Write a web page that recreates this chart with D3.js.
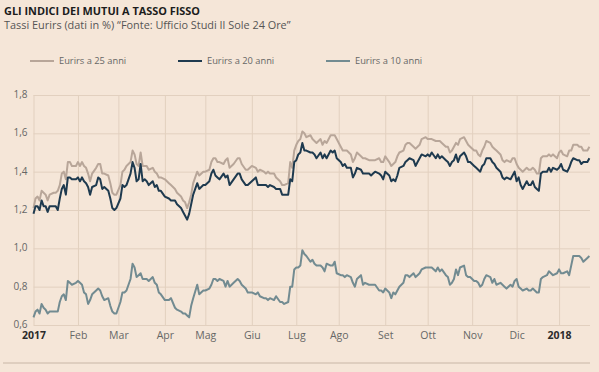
<!DOCTYPE html>
<html>
<head>
<meta charset="utf-8">
<script src="https://cdn.jsdelivr.net/npm/d3@7"></script>
<style>
  body { margin: 0; background: #f5e6d8; }
  svg { display: block; font-family: "Open Sans", sans-serif; }
</style>
</head>
<body>
<div id="chart"></div>
<script>
// business days (x axis skips weekends)
const dates = [
  "2017-01-02","2017-01-03","2017-01-04","2017-01-05","2017-01-06","2017-01-09","2017-01-10","2017-01-11","2017-01-12","2017-01-16",
  "2017-01-17","2017-01-18","2017-01-19","2017-01-20","2017-01-23","2017-01-24","2017-01-25","2017-01-26","2017-01-27","2017-01-31",
  "2017-02-01","2017-02-02","2017-02-03","2017-02-06","2017-02-07","2017-02-08","2017-02-09","2017-02-10","2017-02-14","2017-02-15",
  "2017-02-16","2017-02-17","2017-02-20","2017-02-22","2017-02-23","2017-02-24","2017-02-27","2017-02-28","2017-03-02",
  "2017-03-03","2017-03-06","2017-03-07","2017-03-09","2017-03-10","2017-03-13","2017-03-14","2017-03-15","2017-03-16","2017-03-17",
  "2017-03-20","2017-03-21","2017-03-22","2017-03-24","2017-03-27","2017-03-28","2017-03-29","2017-03-30","2017-04-03","2017-04-05",
  "2017-04-06","2017-04-10","2017-04-11","2017-04-13","2017-04-14","2017-04-17","2017-04-18","2017-04-19","2017-04-20","2017-04-21",
  "2017-04-25","2017-04-26","2017-04-28","2017-05-01","2017-05-03","2017-05-04",
  "2017-05-05","2017-05-08","2017-05-09","2017-05-10","2017-05-12","2017-05-15","2017-05-16","2017-05-17","2017-05-19","2017-05-23",
  "2017-05-24","2017-05-25","2017-05-29","2017-05-30","2017-06-01","2017-06-05","2017-06-06","2017-06-07","2017-06-09","2017-06-12",
  "2017-06-13","2017-06-14","2017-06-16","2017-06-19","2017-06-21","2017-06-22","2017-06-23","2017-06-27","2017-06-28","2017-06-29",
  "2017-06-30","2017-07-03","2017-07-04","2017-07-05","2017-07-06",
  "2017-07-07","2017-07-10","2017-07-12","2017-07-13","2017-07-14","2017-07-17","2017-07-19","2017-07-20","2017-07-21","2017-07-24",
  "2017-07-26","2017-07-27","2017-07-28","2017-07-31","2017-08-02","2017-08-03","2017-08-04","2017-08-07","2017-08-09","2017-08-10",
  "2017-08-11","2017-08-14","2017-08-16","2017-08-17","2017-08-18","2017-08-22","2017-08-23","2017-08-24","2017-08-25","2017-08-29",
  "2017-08-30","2017-08-31","2017-09-01","2017-09-05","2017-09-06","2017-09-07",
  "2017-09-08","2017-09-11","2017-09-12","2017-09-14","2017-09-15","2017-09-18","2017-09-19","2017-09-21","2017-09-22","2017-09-25",
  "2017-09-26","2017-09-27","2017-09-29","2017-10-02","2017-10-03","2017-10-04","2017-10-06","2017-10-09","2017-10-10","2017-10-11",
  "2017-10-13","2017-10-16","2017-10-17","2017-10-18","2017-10-19","2017-10-20","2017-10-23","2017-10-24","2017-10-26","2017-10-27",
  "2017-10-30","2017-10-31","2017-11-02","2017-11-03","2017-11-06","2017-11-07",
  "2017-11-08","2017-11-09","2017-11-10","2017-11-14","2017-11-15","2017-11-16","2017-11-17","2017-11-21","2017-11-22","2017-11-23",
  "2017-11-24","2017-11-28","2017-11-29","2017-11-30","2017-12-01","2017-12-04","2017-12-05","2017-12-06","2017-12-08","2017-12-11",
  "2017-12-12","2017-12-13","2017-12-14","2017-12-15","2017-12-18","2017-12-19","2017-12-20","2017-12-22","2017-12-25","2017-12-26",
  "2017-12-27","2017-12-29","2018-01-01","2018-01-02","2018-01-03","2018-01-05","2018-01-08","2018-01-09","2018-01-10","2018-01-12",
  "2018-01-15","2018-01-16","2018-01-17","2018-01-19","2018-01-22"
];

const eurirs25 = [
  1.21,1.26,1.27,1.25,1.30,1.29,1.28,1.25,1.28,1.29,1.29,1.30,1.33,1.39,1.40,1.36,1.45,1.45,1.43,1.43,
  1.45,1.43,1.45,1.43,1.42,1.39,1.35,1.39,1.42,1.44,1.44,1.39,1.39,1.38,1.34,1.29,1.28,1.28,1.33,
  1.40,1.41,1.43,1.45,1.51,1.49,1.44,1.43,1.50,1.43,1.43,1.43,1.41,1.42,1.40,1.39,1.37,1.37,1.36,1.34,
  1.33,1.31,1.29,1.27,1.25,1.24,1.21,1.24,1.28,1.34,1.40,1.38,1.40,1.40,1.41,1.45,
  1.47,1.47,1.45,1.45,1.44,1.46,1.47,1.42,1.44,1.47,1.47,1.44,1.41,1.41,1.43,1.42,1.40,1.41,1.40,1.39,
  1.40,1.39,1.39,1.37,1.35,1.33,1.33,1.34,1.45,1.42,1.51,1.54,1.56,1.57,1.61,
  1.60,1.58,1.59,1.57,1.56,1.55,1.57,1.54,1.56,1.55,1.59,1.59,1.59,1.57,1.53,1.51,1.51,1.51,1.49,1.45,
  1.47,1.50,1.48,1.47,1.47,1.46,1.46,1.46,1.46,1.47,1.45,1.45,1.48,1.45,1.43,1.44,
  1.45,1.48,1.50,1.51,1.54,1.55,1.55,1.53,1.52,1.53,1.54,1.57,1.58,1.57,1.57,1.57,1.56,1.56,1.56,1.55,
  1.53,1.53,1.50,1.51,1.53,1.55,1.54,1.57,1.58,1.56,1.54,1.53,1.51,1.51,1.49,1.48,
  1.51,1.53,1.56,1.55,1.53,1.52,1.51,1.49,1.46,1.45,1.46,1.45,1.47,1.47,1.44,1.42,1.41,1.40,1.42,1.41,
  1.41,1.42,1.41,1.39,1.39,1.47,1.48,1.48,1.49,1.48,1.49,1.47,1.50,1.51,1.49,1.48,1.51,1.51,1.54,1.54,
  1.53,1.53,1.51,1.51,1.53
];

const eurirs20 = [
  1.18,1.22,1.22,1.20,1.25,1.22,1.22,1.19,1.22,1.22,1.22,1.20,1.26,1.31,1.33,1.28,1.37,1.37,1.36,1.36,
  1.37,1.35,1.37,1.35,1.34,1.32,1.28,1.32,1.33,1.37,1.36,1.31,1.32,1.30,1.26,1.21,1.20,1.21,1.26,
  1.33,1.32,1.33,1.39,1.45,1.42,1.35,1.36,1.44,1.35,1.36,1.35,1.33,1.35,1.32,1.33,1.30,1.30,1.27,1.26,
  1.25,1.25,1.23,1.21,1.19,1.17,1.15,1.18,1.23,1.28,1.34,1.31,1.33,1.33,1.35,1.39,
  1.41,1.38,1.37,1.36,1.39,1.37,1.38,1.33,1.36,1.39,1.39,1.36,1.33,1.33,1.35,1.37,1.33,1.33,1.33,1.33,
  1.32,1.33,1.32,1.31,1.31,1.28,1.28,1.28,1.36,1.35,1.45,1.46,1.49,1.50,1.55,
  1.51,1.51,1.50,1.50,1.49,1.47,1.50,1.47,1.49,1.47,1.51,1.50,1.51,1.47,1.45,1.43,1.44,1.42,1.42,1.37,
  1.39,1.42,1.41,1.39,1.39,1.39,1.38,1.39,1.40,1.39,1.38,1.36,1.40,1.38,1.35,1.36,
  1.35,1.38,1.42,1.43,1.45,1.46,1.47,1.46,1.43,1.45,1.47,1.49,1.48,1.49,1.48,1.50,1.47,1.49,1.47,1.48,
  1.46,1.45,1.43,1.45,1.46,1.49,1.45,1.48,1.50,1.48,1.45,1.45,1.43,1.42,1.41,1.40,
  1.43,1.44,1.47,1.47,1.45,1.44,1.42,1.40,1.37,1.36,1.37,1.36,1.38,1.40,1.35,1.37,1.33,1.31,1.35,1.33,
  1.33,1.35,1.32,1.31,1.30,1.39,1.40,1.40,1.42,1.40,1.42,1.41,1.42,1.44,1.41,1.40,1.42,1.45,1.47,1.46,
  1.46,1.44,1.45,1.45,1.47
];

const eurirs10 = [
  0.64,0.67,0.68,0.66,0.71,0.69,0.68,0.66,0.67,0.67,0.67,0.67,0.72,0.75,0.76,0.73,0.83,0.82,0.81,0.82,
  0.83,0.82,0.81,0.77,0.76,0.71,0.73,0.76,0.78,0.79,0.78,0.75,0.73,0.74,0.70,0.67,0.66,0.66,0.72,
  0.77,0.77,0.78,0.84,0.92,0.90,0.85,0.86,0.87,0.84,0.84,0.84,0.83,0.85,0.82,0.81,0.77,0.76,0.73,0.73,
  0.74,0.69,0.68,0.67,0.66,0.66,0.65,0.64,0.70,0.74,0.81,0.76,0.78,0.78,0.79,0.81,
  0.84,0.84,0.83,0.84,0.83,0.80,0.83,0.80,0.82,0.84,0.83,0.81,0.79,0.77,0.77,0.76,0.77,0.75,0.74,0.74,
  0.73,0.74,0.73,0.75,0.72,0.72,0.71,0.72,0.80,0.80,0.89,0.90,0.90,0.91,0.99,
  0.97,0.96,0.93,0.94,0.92,0.91,0.91,0.90,0.88,0.92,0.91,0.91,0.93,0.87,0.86,0.86,0.85,0.86,0.85,0.82,
  0.80,0.84,0.86,0.81,0.82,0.81,0.81,0.81,0.81,0.78,0.78,0.77,0.79,0.77,0.74,0.77,
  0.76,0.78,0.80,0.82,0.86,0.86,0.85,0.87,0.85,0.86,0.87,0.89,0.90,0.90,0.90,0.90,0.88,0.90,0.88,0.89,
  0.86,0.85,0.81,0.82,0.84,0.89,0.86,0.90,0.91,0.86,0.85,0.85,0.83,0.83,0.82,0.80,
  0.81,0.84,0.86,0.85,0.82,0.84,0.81,0.82,0.81,0.80,0.79,0.81,0.80,0.83,0.84,0.80,0.79,0.78,0.79,0.78,
  0.78,0.79,0.78,0.77,0.77,0.84,0.85,0.86,0.88,0.87,0.86,0.87,0.89,0.87,0.87,0.88,0.86,0.91,0.96,0.96,
  0.96,0.95,0.93,0.95,0.96
];

// first business day of each month -> gridline + label
const tickDates = ["2017-01-02","2017-02-01","2017-03-01","2017-04-03","2017-05-01","2017-06-01","2017-07-03",
                   "2017-08-01","2017-09-01","2017-10-02","2017-11-01","2017-12-01","2018-01-01"];
const tickLabels = ["2017","Feb","Mar","Apr","Mag","Giu","Lug","Ago","Set","Ott","Nov","Dic","2018"];
const yTicks = [0.6, 0.8, 1.0, 1.2, 1.4, 1.6, 1.8];

const seriesNames = ["Eurirs a 25 anni", "Eurirs a 20 anni", "Eurirs a 10 anni"];
const seriesColors = ["#b8a699", "#1e3a4f", "#728b91"];

const W = 599, H = 372;
const mLeft = 33.5, mRight = 590, mTop = 95, mBottom = 325;

const parse = d3.timeParse("%Y-%m-%d");
const start = parse(dates[0]);
// position by trading-day count, weekends skipped
const bizIndex = d => d3.timeDays(start, d).filter(t => t.getDay() % 6 !== 0).length;

const idx = dates.map(s => bizIndex(parse(s)));

const x = d3.scaleLinear()
  .domain([0, 275.3])
  .range([mLeft, mRight]);

const y = d3.scaleLinear()
  .domain([0.6, 1.8])
  .range([mBottom, mTop]);

const svg = d3.select("#chart")
  .append("svg")
  .attr("width", W)
  .attr("height", H);

svg.append("rect").attr("width", W).attr("height", H).attr("fill", "#f5e6d8");

// title
svg.append("text")
  .attr("x", 4).attr("y", 15)
  .style("font-size", "10.9px").style("font-weight", 700)
  .attr("fill", "#1c1c1c")
  .text("GLI INDICI DEI MUTUI A TASSO FISSO");

svg.append("text")
  .attr("x", 4).attr("y", 29)
  .style("font-size", "10.9px")
  .attr("fill", "#555")
  .text("Tassi Eurirs (dati in %) \u201cFonte: Ufficio Studi Il Sole 24 Ore\u201d");

// legend
const legend = svg.append("g")
  .selectAll("g")
  .data(seriesNames)
  .join("g")
  .attr("transform", (d, i) => `translate(${30 + i * 148},61)`);

legend.append("line")
  .attr("x1", 0).attr("x2", 24)
  .attr("stroke", (d, i) => seriesColors[i])
  .attr("stroke-width", 2);

legend.append("text")
  .attr("x", 29).attr("y", 3.3)
  .style("font-size", "9.3px")
  .attr("fill", "#666")
  .text(d => d);

// y grid + labels
const yAxis = svg.append("g")
  .attr("transform", `translate(${mLeft},0)`)
  .call(d3.axisLeft(y)
    .tickValues(yTicks)
    .tickSize(-(mRight - mLeft))
    .tickPadding(6)
    .tickFormat(d => d3.format(".1f")(d).replace(".", ",")));

yAxis.select(".domain").remove();
yAxis.selectAll("line").attr("stroke", "#e2d0bf");
yAxis.selectAll("text")
  .style("font-size", "10px")
  .style("font-family", "'Open Sans', sans-serif")
  .attr("dy", "0.25em")
  .attr("fill", "#666");

// x grid + month labels
const xTickIdx = tickDates.map(s => bizIndex(parse(s)));

const xAxis = svg.append("g")
  .attr("transform", `translate(0,${mBottom})`)
  .call(d3.axisBottom(x)
    .tickValues(xTickIdx)
    .tickSize(-(mBottom - mTop))
    .tickPadding(7)
    .tickFormat((d, i) => tickLabels[i]));

xAxis.select(".domain").remove();
xAxis.selectAll("line").attr("stroke", "#e2d0bf");
xAxis.selectAll("text")
  .style("font-size", "10.5px")
  .style("font-family", "'Open Sans', sans-serif")
  .attr("fill", "#666")
  .filter((d, i) => tickLabels[i].length === 4)
  .style("font-weight", 700)
  .attr("fill", "#2b2b2b");

// lines: 10y first, then 25y, 20y on top
const line = d3.line()
  .x((d, i) => x(idx[i]))
  .y(d => y(d));

[[eurirs10, 2], [eurirs25, 0], [eurirs20, 1]].forEach(([vals, c]) => {
  svg.append("path")
    .datum(vals)
    .attr("fill", "none")
    .attr("stroke", seriesColors[c])
    .attr("stroke-width", 2)
    .attr("stroke-linejoin", "round")
    .attr("d", line);
});

// bottom rule
svg.append("line")
  .attr("x1", 3).attr("x2", mRight)
  .attr("y1", 363).attr("y2", 363)
  .attr("stroke", "#c8b6a6")
  .attr("stroke-width", 1);
</script>
</body>
</html>
